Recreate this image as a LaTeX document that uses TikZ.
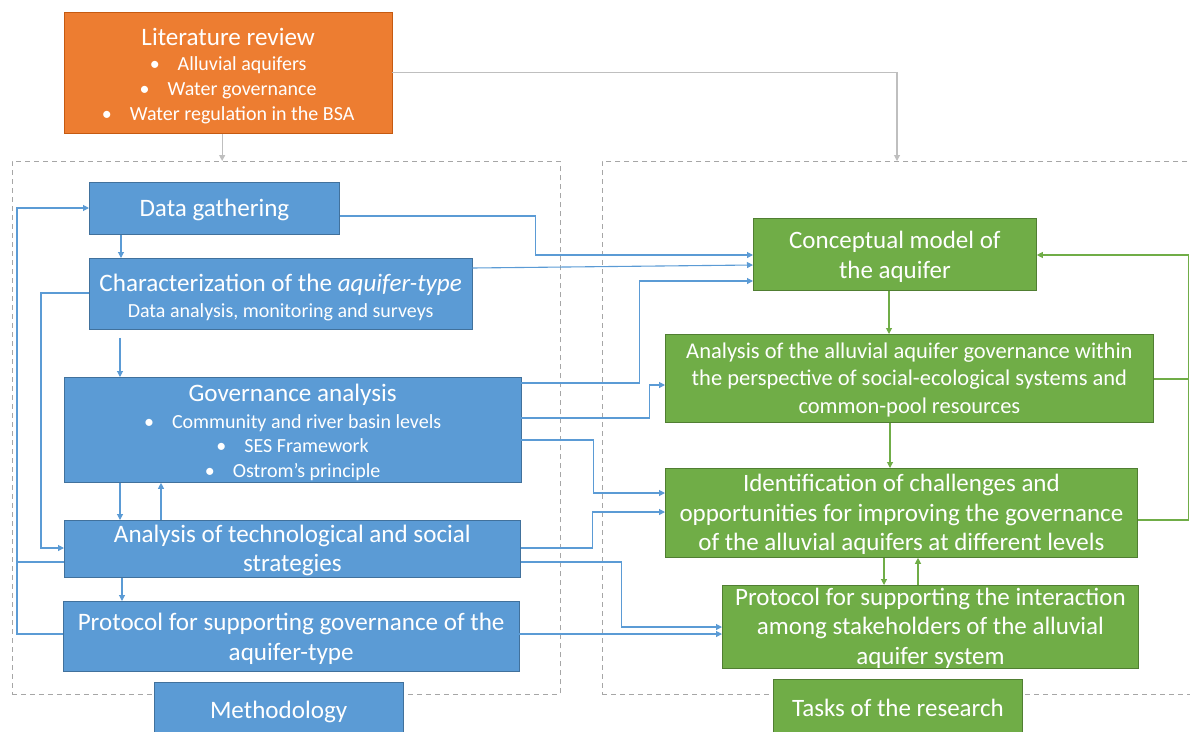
\documentclass[tikz,border=0pt]{standalone}
\usepackage{fontspec}
\setmainfont{Carlito}
\usetikzlibrary{arrows.meta,calc}
\definecolor{obox}{HTML}{ED7D31}
\definecolor{oedge}{HTML}{C55A11}
\definecolor{bbox}{HTML}{5B9BD5}
\definecolor{bedge}{HTML}{41719C}
\definecolor{gbox}{HTML}{70AD47}
\definecolor{gedge}{HTML}{507E32}
\definecolor{grayline}{HTML}{BFBFBF}
\definecolor{dashline}{HTML}{A6A6A6}
\newcommand\mybul{\textbullet\hspace{18pt}}
\newcommand\vst[1]{\rule{0pt}{#1pt}}
\begin{document}
\begin{tikzpicture}[x=1pt,y=-1pt,
  sz/.style 2 args={minimum width=#1pt, minimum height=#2pt},
  box/.style={draw, line width=0.8pt, text=white, align=center, anchor=north west, inner sep=0pt},
  obx/.style={box, fill=obox, draw=oedge},
  bbx/.style={box, fill=bbox, draw=bedge},
  gbx/.style={box, fill=gbox, draw=gedge},
  dbox/.style={draw=dashline, line width=0.8pt, dash pattern=on 5pt off 4pt, anchor=north west, inner sep=0pt},
  big/.style={font=\fontsize{25.1}{29.5}\selectfont},
  gbig/.style={font=\fontsize{25}{29.5}\selectfont},
  small/.style={font=\fontsize{20}{24.5}\selectfont},
  conn/.style={line width=1.1pt, -{Triangle[length=6pt,width=6pt]}},
  bl/.style={conn, draw=bbox},
  gl/.style={conn, draw=gbox},
  gy/.style={conn, draw=grayline},
  bline/.style={line width=1.1pt, draw=bbox},
  gline/.style={line width=1.1pt, draw=gbox}
]
\useasboundingbox (0,0) rectangle (1190,731);
\clip (0,0) rectangle (1190,731);

% dashed frames
\node[dbox, sz={548}{533}] (mbox) at (11.5,161) {};
\node[dbox, sz={620}{533}] (rbox) at (602,161) {};

% nodes
\node[obx, sz={327.5}{121}, font=\fontsize{20}{25}\selectfont] (lit) at (64,12)
  {\vst{23}{\fontsize{25.1}{26}\selectfont Literature review}\\
   \mybul Alluvial aquifers\\ \mybul Water governance\\ \mybul Water regulation in the BSA};
\node[bbx, sz={250}{52}, big] (data) at (89,182) {\vst{21}Data gathering};
\node[bbx, sz={382.5}{71}, small] (char) at (89,258)
  {\vst{25}{\fontsize{25.1}{26}\selectfont Characterization of the \textit{aquifer-type}}\\[2pt]
   Data analysis, monitoring and surveys};
\node[bbx, sz={456.5}{105}, small] (gov) at (64,377)
  {\vst{22}{\fontsize{25.1}{27}\selectfont Governance analysis}\\[2pt]
   \mybul Community and river basin levels\\ \mybul SES Framework\\ \mybul Ostrom’s principle};
\node[bbx, sz={456}{57}, big] (tech) at (64,520)
  {\vst{20}Analysis of technological and social\\ strategies};
\node[bbx, sz={455.5}{70}, big] (prot) at (63,601)
  {\vst{22}Protocol for supporting governance of the\\ aquifer-type};
\node[bbx, sz={249.5}{56}, big] (meth) at (153.5,682) {\vst{21}Methodology};

\node[gbx, sz={283}{72}, gbig] (concept) at (753,218) {\vst{22}Conceptual model of\\ the aquifer};
\node[gbx, sz={488}{88}, font=\fontsize{22.5}{27.5}\selectfont] (alluv) at (665,334)
  {\vst{18.5}Analysis of the alluvial aquifer governance within\\ the perspective of social-ecological systems and\\ common-pool resources};
\node[gbx, sz={472}{89}, gbig] (ident) at (665,468)
  {\vst{21}Identification of challenges and\\ opportunities for improving the governance\\ of the alluvial aquifers at different levels};
\node[gbx, sz={416}{83}, gbig] (protint) at (722,585)
  {\vst{20}Protocol for supporting the interaction\\ among stakeholders of the alluvial\\ aquifer system};
\node[gbx, sz={249}{56}, gbig] (tasks) at (773,679) {Tasks of the research};

% gray connectors
\coordinate (g1) at ($(lit.south)+(-6,0)$);
\draw[gy] (g1) -- (g1 |- mbox.north);
\coordinate (g2) at ($(rbox.north west)+(295,0)$);
\draw[gy] (lit.east) -| (g2);

% blue connectors to the right
\draw[bl] ($(data.north east)+(0,34)$) -- ++(196,0) |- ($(concept.north west)+(0,37)$);
\draw[bl] ($(char.north east)+(0,10)$) -- ($(concept.north west)+(0,47)$);
\draw[bl] ($(gov.north east)+(0,6)$) -- ++(118,0) |- ($(concept.north west)+(0,63)$);
\draw[bl] ($(gov.north east)+(0,41)$) -- ++(128,0) |- ($(alluv.north west)+(0,51)$);
\draw[bl] ($(gov.north east)+(0,63)$) -- ++(72,0) |- ($(ident.north west)+(0,25)$);
\draw[bl] ($(tech.north east)+(0,28)$) -- ++(72,0) |- ($(ident.north west)+(0,44)$);
\draw[bl] ($(tech.north east)+(0,42)$) -- ++(101,0) |- ($(protint.north west)+(0,42)$);
\draw[bl] ($(prot.north east)+(0,33)$) -- ($(protint.north west)+(0,49)$);

% blue connectors inside methodology
\draw[bl] ($(data.south west)+(32,0)$) -- ($(char.north west)+(32,0)$);
\draw[bl] ($(char.south west)+(31,8)$) -- ($(gov.north west)+(56,0)$);
\draw[bl] ($(gov.south west)+(56,0)$) -- ($(tech.north west)+(56,0)$);
\draw[bl] ($(tech.north west)+(97,0)$) -- ($(gov.south west)+(97,0)$);
\draw[bl] ($(tech.south west)+(58,0)$) -- ($(prot.north west)+(59,0)$);
\draw[bl] ($(char.north west)+(0,35)$) -- ++(-48,0) |- ($(tech.north west)+(0,28)$);
\draw[bl] ($(prot.north west)+(0,33)$) -- ++(-46,0) |- ($(data.north west)+(0,26)$);
\draw[bline] ($(tech.north west)+(0,42)$) -- ++(-47,0);

% green connectors
\draw[gl] ($(concept.south west)+(136,0)$) -- ($(alluv.north west)+(224,0)$);
\draw[gl] ($(alluv.south west)+(225,0)$) -- ($(ident.north west)+(225,0)$);
\draw[gl] ($(ident.south west)+(219,0)$) -- ($(protint.north west)+(162,0)$);
\draw[gl] ($(protint.north west)+(196,0)$) -- ($(ident.south west)+(253,0)$);
\draw[gline] ($(alluv.north east)+(0,45)$) -- ++(35,0);
\draw[gl] ($(ident.north east)+(0,52)$) -- ++(51,0) |- ($(concept.north east)+(0,37)$);
\end{tikzpicture}
\end{document}
